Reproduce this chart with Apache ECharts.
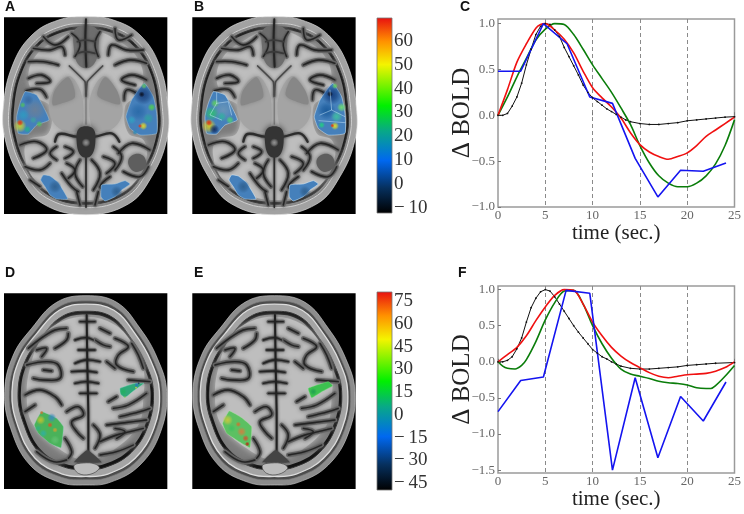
<!DOCTYPE html>
<html><head><meta charset="utf-8">
<style>html,body{margin:0;padding:0;background:#fff}#c{width:744px;height:514px}</style>
<script src="https://cdn.jsdelivr.net/npm/echarts@6/dist/echarts.min.js"></script>
</head><body><div id="c"></div>
<script>
// ---- data ----
const xTicks=[0,5,10,15,20,25];
const yTicksC=[-1,-0.5,0,0.5,1];
const yTicksF=[-1.5,-1,-0.5,0,0.5,1];
const cBlack=[[0,0],[.5,0],[1,.02],[1.5,.1],[2,.2],[2.5,.35],[3,.55],[3.5,.72],[4,.88],[4.5,.97],[5,1],[5.5,.99],[6,.93],[6.5,.86],[7,.74],[7.5,.64],[8,.54],[8.5,.44],[9,.33],[9.5,.25],[10,.19],[10.5,.15],[11,.11],[11.5,.07],[12,.04],[12.5,.01],[13,-.02],[13.5,-.05],[14,-.07],[15,-.09],[16,-.1],[17,-.1],[18,-.09],[19,-.08],[20,-.06],[21,-.05],[22,-.04],[23,-.03],[24,-.02],[25,-.015]];
const cBlue=[[0,.48],[2.4,.48],[4.8,1],[7.3,.78],[9.7,.2],[12.1,.13],[14.5,-.47],[16.9,-.89],[19.3,-.6],[21.7,-.61],[24.1,-.52]];
const cRed=[[0,0],[1,.28],[2,.58],[3,.78],[4,.95],[4.5,.99],[5,1],[6,.93],[7,.83],[8,.68],[9,.48],[10,.3],[11,.19],[12,.09],[13,-.03],[14,-.19],[15,-.32],[16,-.4],[17,-.45],[18,-.48],[19,-.45],[20,-.41],[21,-.33],[22,-.23],[23,-.16],[24,-.09],[25,-.02]];
const cGreen=[[0,0],[1,.2],[2,.42],[3,.62],[4,.82],[5,.94],[6,1],[7,.99],[8,.88],[9,.72],[10,.55],[11,.4],[12,.25],[13,.08],[14,-.1],[15,-.33],[16,-.52],[17,-.66],[18,-.74],[19,-.78],[20,-.78],[21,-.74],[22,-.66],[23,-.53],[24,-.33],[25,-.05]];
const fBlack=[[0,0],[.5,0],[1,.02],[1.5,.07],[2,.18],[2.5,.33],[3,.55],[3.5,.75],[4,.88],[4.5,.97],[5,1],[5.5,.98],[6,.9],[6.5,.8],[7,.7],[7.5,.6],[8,.5],[8.5,.41],[9,.33],[9.5,.25],[10,.17],[10.5,.12],[11,.07],[11.5,.04],[12,0],[12.5,-.03],[13,-.06],[14,-.09],[15,-.1],[16,-.1],[17,-.09],[18,-.08],[19,-.07],[20,-.05],[21,-.04],[22,-.03],[23,-.02],[25,-.01]];
const fBlue=[[0,-.69],[2.4,-.26],[4.8,-.21],[7.2,.99],[9.7,.95],[12.1,-1.5],[14.5,-.22],[16.9,-1.33],[19.3,-.48],[21.7,-.82],[24.1,-.28]];
const fRed=[[0,0],[1,.1],[2,.2],[3,.36],[4,.57],[5,.76],[6,.92],[7,1],[8,.99],[9,.8],[10,.55],[11,.36],[12,.2],[13,.08],[14,-.01],[15,-.08],[16,-.15],[17,-.2],[18,-.22],[19,-.2],[20,-.18],[21,-.17],[22,-.16],[23,-.13],[24,-.08],[25,0]];
const fGreen=[[0,0],[.5,-.06],[1,-.09],[1.8,-.1],[2.5,-.05],[3,.03],[4,.28],[5,.58],[6,.82],[7,.98],[8,.99],[9,.8],[10,.5],[11,.25],[12,.05],[13,-.1],[14,-.17],[15,-.2],[16,-.23],[17,-.27],[18,-.29],[19,-.3],[20,-.32],[21,-.36],[22,-.37],[22.5,-.37],[23,-.33],[24,-.2],[25,-.05]];
const barTop=[-12.3,69.7];
const barTopTicks=[-10,0,10,20,30,40,50,60];
const barBottom=[-49.6,81];
const barBottomTicks=[-45,-30,-15,0,15,30,45,60,75];
const panelLetters=['A','B','C','D','E','F'];

const SERIF='"Liberation Serif","DejaVu Serif",serif';
const jet=[[0,'#000000'],[.13,'#06305e'],[.27,'#0068f0'],[.42,'#08a888'],[.55,'#00f000'],[.76,'#f4f400'],[.88,'#ff9000'],[1,'#e81010']];
const fmtMinus=v=>v.toFixed(1).replace('-','\u2212');

// ---- brain slices drawn as decorative shapes, zoomed coordinates scaled 1/3 ----
const poly=(pts,fill,stroke,lw,smooth,blur)=>({type:'polygon',shape:{points:pts,smooth:smooth===undefined?0.4:smooth},style:{fill:fill||'transparent',stroke:stroke||null,lineWidth:lw||0,shadowBlur:blur||0,shadowColor:blur?(fill||stroke):undefined}});
const line=(pts,stroke,lw,smooth,blur)=>({type:'polyline',shape:{points:pts,smooth:smooth===undefined?0.4:smooth},style:{fill:null,stroke:stroke,lineWidth:lw,lineCap:'round',lineJoin:'round',shadowBlur:blur===undefined?3:blur,shadowColor:stroke}});
const spot=(x,y,rx,ry,c)=>({type:'ellipse',shape:{cx:x,cy:y,rx:rx,ry:ry},style:{fill:{type:'radial',x:.5,y:.5,r:.5,colorStops:[{offset:0,color:c+'ee'},{offset:.5,color:c+'99'},{offset:1,color:c+'00'}]}}});
const scaled=(pts,cx,cy,s)=>pts.map(p=>[cx+(p[0]-cx)*s,cy+(p[1]-cy)*s]);
const WM='#bebebe',GM='#7c7c7c',SU='#242424';
const sulcus=(list,w)=>{const o=[];list.forEach(p=>o.push(line(p,'#6c6c6c',w||15,.4,4)));list.forEach(p=>o.push(line(p,SU,4,.4,2)));return o;};

function headTop(){
  const head=[[258,50],[340,60],[420,105],[478,195],[504,320],[500,420],[455,530],[385,612],[258,644],[130,612],[60,530],[16,420],[10,320],[38,195],[96,105],[176,60]];
  const c=[258,345];
  let e=[poly([[12,52],[502,52],[502,642],[12,642]],'#000',null,0,0)];
  e.push(poly(head,'#a2a2a2','#dedede',2));
  e.push(poly(scaled(head,c[0],c[1],.93),'#8a8a8a','#d0d0d0',3));
  e.push(poly(scaled(head,c[0],c[1],.895),'#1e1e1e','#343434',3));
  e.push(poly(scaled(head,c[0],c[1],.87),GM,null,0));
  // white matter base
  e.push(poly([[170,120],[230,100],[258,200],[285,100],[350,120],[410,170],[430,240],[405,290],[375,320],[385,400],[430,420],[440,470],[410,540],[340,585],[262,600],[180,585],[105,540],[75,470],[85,420],[145,400],[150,320],[110,290],[85,240],[105,170]],WM,null,0,.4,6));
  // frontal midline gyri
  e.push(poly([[228,85],[288,85],[295,150],[282,192],[258,205],[234,192],[222,150]],'#6e6e6e',null,0,.4,5));
  e=e.concat(sulcus([[[215,100],[240,130],[225,170]],[[130,110],[165,135],[205,110]],[[100,145],[150,150],[185,140],[195,165]],[[85,185],[130,185],[175,195]],[[85,235],[125,225],[150,245],[110,250]],[[78,272],[120,268],[140,292]],
    [[300,95],[285,130],[295,170]],[[345,85],[355,120],[395,105]],[[430,150],[380,150],[335,135],[325,165]],[[440,190],[390,180],[345,195]],[[440,240],[395,225],[365,240],[405,255]],[[410,280],[380,270],[372,300]],
    [[60,435],[110,425],[140,450],[100,475]],[[75,500],[120,510],[150,490]],[[120,560],[90,540]],[[355,460],[395,430],[450,450]],[[370,515],[420,530],[445,500]],
    [[170,440],[150,460],[170,480]],[[195,440],[220,455],[195,475]],[[200,490],[225,510],[205,535]],[[185,520],[215,560],[235,575]],[[240,480],[225,520],[248,560]],[[275,480],[300,520],[280,570]],[[310,470],[345,490],[320,520]],[[340,440],[365,470],[345,510]],[[330,530],[300,560],[320,575]],[[230,575],[240,615]],[[295,575],[285,615]]],13));
  e.push(line([[258,58],[256,120],[259,200]],'#242424',6,.3));
  [[[232,125],[255,120],[285,125]],[[232,160],[255,155],[285,160]]].forEach(p=>e.push(line(p,'#3a3a3a',5)));
  e.push(line([[258,470],[258,622]],'#2a2a2a',5,.2));
  e.push(poly([[385,480],[420,462],[438,495],[405,515]],'#5e5e5e',null,0,.5,5));
  // basal ganglia
  e.push(poly([[205,228],[238,265],[250,330],[240,388],[190,392],[150,345],[158,275]],'#a4a4a4',null,0,.4,6));
  e.push(poly([[315,228],[348,275],[368,335],[335,388],[285,392],[268,330],[280,265]],'#a4a4a4',null,0,.4,6));
  e.push(poly([[205,232],[225,290],[185,310],[158,315],[165,270]],'#878787',null,0,.3,4));
  e.push(poly([[315,232],[350,270],[360,312],[325,305],[292,285]],'#878787',null,0,.3,4));
  // ventricle V and midline
  e.push(line([[208,198],[255,245],[258,290]],'#484848',5,0.1));
  e.push(line([[308,198],[262,245],[258,290]],'#484848',5,0.1));
  e.push(line([[258,292],[258,372]],'#7c7c7c',4,0));
  // cistern
  e.push(line([[165,425],[178,402],[230,410],[285,410],[335,400],[358,425]],'#2c2c2c',7));
  e.push(poly([[238,385],[278,385],[286,425],[272,468],[244,468],[230,425]],'#343434',null,0,.4,6));
  e.push(spot(258,428,13,20,'#9a9a9a'));
  return e;
}
function activTop(bright){
  const e=[], B='#4580bb', outlined=bright?'#cfeaff':'#a4c8e0';
  const L=[[75,275],[92,278],[110,285],[130,320],[147,360],[110,375],[85,402],[55,400],[50,350],[60,310]];
  const R=[[433,250],[460,290],[470,340],[470,400],[420,405],[390,385],[378,350],[395,300]];
  const LL=[[130,525],[150,528],[175,548],[190,572],[203,597],[170,597],[150,585],[135,560],[122,540]];
  const LR=[[305,555],[345,552],[375,542],[390,552],[365,570],[345,590],[315,603],[303,590]];
  [L,R,LL,LR].forEach(p=>e.push(poly(p,B,outlined,1.5,0.15)));
  if(!bright){
    [[105,330,34,34,'#6a7f98'],[70,345,18,34,'#2f9ac0'],[85,300,16,16,'#3a6aa0'],[60,378,20,20,'#c8d030'],[60,368,10,10,'#e03010'],[68,315,9,14,'#50c060'],[118,372,24,10,'#50c060'],[82,388,20,11,'#20b090'],[100,360,18,11,'#40a0a0'],
     [430,285,30,30,'#1a3f7a'],[415,335,34,28,'#2a6aa8'],[455,322,18,12,'#50d050'],[430,378,44,12,'#e8d820'],[420,378,24,6,'#e83010'],[445,355,22,16,'#30a0a0'],[432,258,9,11,'#60c060'],[405,397,26,8,'#2a8ab8'],[425,283,11,9,'#0a1020'],[395,360,13,15,'#30a0c0']].forEach(s=>e.push(spot(...s)));
    e.push(spot(165,560,26,20,'#2f6090'),spot(350,575,26,18,'#2f6090'));
  } else {
    [[105,330,34,34,'#6a96b8'],[70,340,22,38,'#30c070'],[62,378,22,22,'#d8c820'],[62,368,10,10,'#e03010'],[78,388,20,15,'#102a60'],[80,310,13,19,'#60d060'],[125,360,26,12,'#50d070'],[100,350,15,15,'#30b0a0'],
     [430,285,30,30,'#123a7a'],[415,332,30,28,'#1a5a9a'],[460,322,18,14,'#70e070'],[440,378,44,12,'#e8e020'],[432,377,26,6,'#e83010'],[445,350,24,17,'#40c0a0'],[440,258,9,11,'#60d060'],[400,375,20,10,'#20d080'],[425,282,11,9,'#0a1020']].forEach(s=>e.push(spot(...s)));
    e.push(spot(165,560,26,20,'#2f6090'),spot(350,575,26,18,'#2f6090'));
    [[[85,278],[85,310],[120,305],[130,345]],[[85,310],[65,345],[100,360]],[[425,270],[430,330],[395,345]],[[430,330],[470,350]],[[392,362],[470,368]]].forEach(p=>e.push(line(p,'#cfeeff',1.4,0,0)));
  }
  return e;
}
function headBottom(){
  const head=[[258,92],[350,112],[420,190],[472,280],[500,380],[482,500],[420,600],[330,652],[258,660],[180,652],[90,600],[32,490],[14,380],[40,270],[95,190],[170,112]];
  const c=[258,375];
  let e=[poly([[12,85],[502,85],[502,672],[12,672]],'#000',null,0,0)];
  e.push(poly(head,'#8c8c8c','#c4c4c4',2));
  e.push(poly(scaled(head,c[0],c[1],.945),'#4c4c4c','#808080',2));
  e.push(poly(scaled(head,c[0],c[1],.91),'#a4a4a4','#dcdcdc',4));
  e.push(poly(scaled(head,c[0],c[1],.835),'#141414','#333',3));
  e.push(poly(scaled(head,c[0],c[1],.80),GM,null,0));
  // white matter
  e.push(poly([[175,175],[258,155],[345,180],[400,240],[430,310],[430,400],[415,480],[340,555],[262,585],[190,560],[100,480],[80,390],[95,290],[125,220]],WM,null,0,.4,6));
  e=e.concat(sulcus([[[85,250],[130,215],[165,195],[200,190]],[[165,250],[200,225],[205,205]],[[110,255],[140,250],[125,275]],[[80,300],[140,290],[175,300],[180,340],[130,345],[100,340]],[[130,315],[155,318]],[[75,390],[120,375],[165,395],[185,420]],[[75,440],[105,420]],[[200,440],[235,425],[250,450],[215,470],[230,500],[250,520]],[[195,520],[215,560],[205,580]],[[110,560],[160,590],[200,585]],
    [[285,225],[310,240],[330,245]],[[300,190],[330,205]],[[345,220],[385,245],[355,270],[350,300],[400,320]],[[320,290],[345,310]],[[395,235],[415,270],[430,310]],[[340,430],[385,420],[440,385]],[[360,455],[420,440],[450,430]],[[320,480],[400,470],[440,465]],[[345,490],[375,500],[350,520]],[[300,530],[350,510],[390,500],[430,490]],[[300,570],[350,560],[400,540]],[[280,480],[300,510],[285,550]],[[385,345],[450,350]],[[325,410],[350,395]]],14));
  // midline and its branches
  e=e.concat(sulcus([[[225,225],[258,218],[280,225]],[[225,295],[258,285],[300,290]],[[225,355],[258,350],[295,355]],[[240,385],[290,385]],[[235,255],[285,255]],[[215,320],[258,318],[290,322]],[[240,170],[285,170]]],11));
  e.push(line([[260,150],[262,300],[265,440],[265,560]],'#202020',6,0.2));
  // falx and sinus at back
  e.push(poly([[262,555],[222,592],[305,592]],'#444',null,0,.1,3));
  e.push(poly([[222,602],[250,594],[285,597],[298,610],[270,628],[235,625]],'#bdbdbd','#444',2));
  return e;
}
function activBottom(bright){
  const e=[];
  if(!bright){
    e.push(poly([[125,440],[170,460],[190,485],[183,548],[150,535],[115,505],[103,480]],'#4ab25a','#7fd0b0',1.2,0.1));
    [[155,458,24,14,'#3a8ac0'],[122,465,14,18,'#c0c030'],[150,480,14,8,'#e05020'],[165,495,17,8,'#d0a030'],[130,505,18,12,'#30b0a0'],[165,525,16,14,'#60c070'],[125,443,6,7,'#d07030'],[115,490,10,10,'#30b080']].forEach(s=>e.push(spot(...s)));
    e.push(poly([[360,370],[405,355],[432,355],[400,378],[375,398],[362,388]],'#2fa878','#8fd8c8',1.2,0.1));
    [[410,360,16,7,'#2a70c0'],[416,355,6,4,'#102a60'],[408,368,7,4,'#d0d040'],[370,380,11,11,'#20b060'],[375,396,3,3,'#d0d040']].forEach(s=>e.push(spot(...s)));
  } else {
    e.push(poly([[123,438],[160,458],[190,485],[185,548],[160,535],[115,505],[103,475]],'#5cc062','#a8e8a0',1.2,0.1));
    [[118,465,16,18,'#c8c840'],[150,478,16,8,'#d07030'],[160,500,14,16,'#d08040'],[172,520,10,12,'#d05030'],[177,537,7,8,'#c02010'],[130,490,14,12,'#40c060']].forEach(s=>e.push(spot(...s)));
    e.push(poly([[360,370],[420,350],[433,362],[400,380],[370,398]],'#3cc050','#80e080',1.2,0.1));
    e.push(spot(375,380,11,11,'#20a050'));
  }
  return e;
}
const panel=(x,y,children)=>({type:'group',x:x,y:y,scaleX:1/3,scaleY:1/3,children:children,silent:true});
const brains=[
  panel(0,0,headTop().concat(activTop(false))),
  panel(188.3,0,headTop().concat(activTop(true))),
  panel(0,265,headBottom().concat(activBottom(false))),
  panel(188.3,265,headBottom().concat(activBottom(true)))
];

// ---- axes ----
const tickColor='#666';
function plotGrid(top,height){return {left:498,width:238,top:top,height:height,show:true,borderColor:'#9a9a9a',borderWidth:1.5,backgroundColor:'transparent'};}
function xAxisOf(i){return {gridIndex:i,type:'value',min:0,max:25,interval:5,name:'time (sec.)',nameLocation:'middle',nameGap:26,nameMoveOverlap:false,
  nameTextStyle:{fontFamily:SERIF,fontSize:21,color:'#222',verticalAlign:'middle'},
  axisLine:{show:false},axisTick:{show:true,inside:true,length:3,lineStyle:{color:'#777'}},
  axisLabel:{fontFamily:SERIF,fontSize:13,color:tickColor,margin:2,hideOverlap:false},
  splitLine:{show:true,showMinLine:false,showMaxLine:false,lineStyle:{type:[4,3],color:'#8a8a8a',width:1}}};}
function yAxisOf(i,min,max,ticks){return {gridIndex:i,type:'value',min:min,max:max,name:'\u0394 BOLD',nameLocation:'middle',nameGap:36,nameRotate:90,nameMoveOverlap:false,
  nameTextStyle:{fontFamily:SERIF,fontSize:25,color:'#222',verticalAlign:'middle'},
  axisLine:{show:false},axisTick:{show:true,inside:true,length:3,customValues:ticks,lineStyle:{color:'#777'}},
  axisLabel:{fontFamily:SERIF,fontSize:13,color:tickColor,margin:3,customValues:ticks,formatter:v=>fmtMinus(v)},
  splitLine:{show:false}};}
const lineSeries=(i,data,color,opts)=>Object.assign({type:'line',xAxisIndex:i,yAxisIndex:i,data:data,showSymbol:false,symbol:'none',silent:true,animation:false,
  lineStyle:{color:color,width:1.6},itemStyle:{color:color}},opts||{});
const blackOpts={showSymbol:true,symbol:'circle',symbolSize:1.8,lineStyle:{color:'#111',width:1}};
const barSeries=(i,range)=>({type:'custom',xAxisIndex:i,yAxisIndex:i,silent:true,animation:false,data:[[0,range[0],1,range[1]]],clip:false,
  encode:{x:[0,2],y:[1,3]},
  renderItem:(p,api)=>{const a=api.coord([api.value(0),api.value(1)]),b=api.coord([api.value(2),api.value(3)]);
    return {type:'rect',shape:{x:a[0],y:b[1],width:b[0]-a[0],height:a[1]-b[1]},style:{stroke:'#777',lineWidth:.8,
      fill:new echarts.graphic.LinearGradient(0,1,0,0,jet.map(s=>({offset:s[0],color:s[1]})))}};}});
const barX=i=>({gridIndex:i,type:'value',min:0,max:1,show:false});
const barY=(i,range,ticks)=>({gridIndex:i,type:'value',min:range[0],max:range[1],position:'right',
  axisLine:{show:false},axisTick:{show:false},splitLine:{show:false},
  axisLabel:{fontFamily:SERIF,fontSize:19,color:'#333',margin:2,customValues:ticks,formatter:v=>String(v).replace('-','\u2212\u2009')}});

const letter=(t,l,tp)=>({text:t,left:l,top:tp,padding:0,textStyle:{fontFamily:'"Liberation Sans",Arial,sans-serif',fontWeight:'bold',fontSize:14,color:'#111'}});

const chart=echarts.init(document.getElementById('c'),null,{renderer:'canvas'});
chart.setOption({
  animation:false,backgroundColor:'#fff',
  title:[letter(panelLetters[0],5,0),letter(panelLetters[1],194,0),letter(panelLetters[2],460,0),letter(panelLetters[3],5,266),letter(panelLetters[4],194,266),letter(panelLetters[5],458,266)],
  graphic:{elements:brains},
  grid:[plotGrid(19,188),plotGrid(286,187),
        {left:377,width:15,top:18,height:195},{left:377,width:15,top:292,height:198}],
  xAxis:[xAxisOf(0),xAxisOf(1),barX(2),barX(3)],
  yAxis:[yAxisOf(0,-1,1.05,yTicksC),yAxisOf(1,-1.54,1.05,yTicksF),barY(2,barTop,barTopTicks),barY(3,barBottom,barBottomTicks)],
  series:[
    lineSeries(0,cBlack,'#111',blackOpts),lineSeries(0,cGreen,'#0a7d0a',{smooth:.3}),lineSeries(0,cRed,'#f01010',{smooth:.3}),lineSeries(0,cBlue,'#1414f0'),
    lineSeries(1,fBlack,'#111',blackOpts),lineSeries(1,fGreen,'#0a7d0a',{smooth:.3}),lineSeries(1,fRed,'#f01010',{smooth:.3}),lineSeries(1,fBlue,'#1414f0'),
    barSeries(2,barTop),barSeries(3,barBottom)
  ]
});
</script></body></html>
